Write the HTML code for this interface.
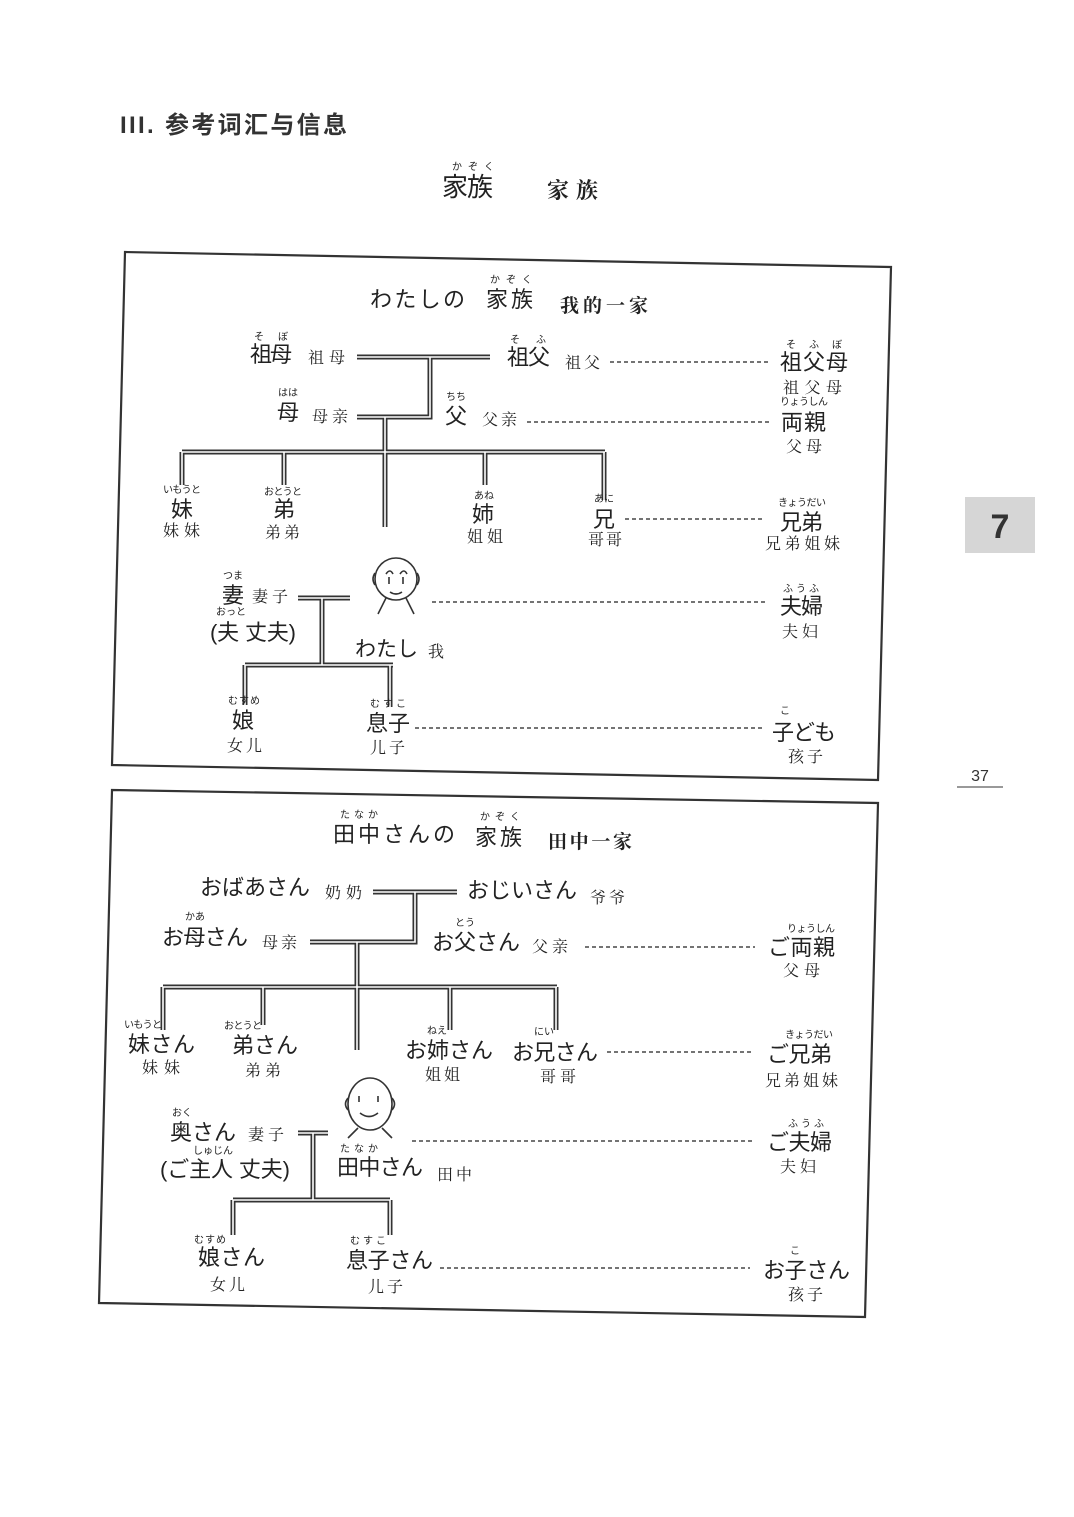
<!DOCTYPE html>
<html><head><meta charset="utf-8"><style>
html,body{margin:0;padding:0;background:#fff}
svg{display:block}
.j{font-family:"Liberation Sans","Noto Sans CJK JP",sans-serif;fill:#222}
.c{font-family:"Liberation Serif","Noto Serif CJK SC",serif;fill:#222}
.r{font-family:"Noto Sans CJK JP",sans-serif;fill:#222;font-size:10px}
.d{stroke:#222;stroke-width:1.2;stroke-dasharray:4 3;fill:none}
.o{stroke:#333;stroke-width:5;fill:none}
.i{stroke:#fff;stroke-width:1.6;fill:none}
</style></head><body>
<svg width="1074" height="1517" viewBox="0 0 1074 1517" xmlns="http://www.w3.org/2000/svg">
<rect width="1074" height="1517" fill="#fff"/>
<text x="120" y="133" font-family="Liberation Sans,Noto Sans CJK SC,sans-serif" font-weight="bold" font-size="24" fill="#333" textLength="227">III. 参考词汇与信息</text>
<text class="r" x="452" y="170" textLength="42">かぞく</text>
<text class="j" x="442" y="196" font-size="26" textLength="51">家族</text>
<text class="c" x="547" y="198" font-size="22" font-weight="bold" textLength="51">家族</text>
<rect x="965" y="497" width="70" height="56" fill="#d6d6d6"/>
<text x="1000" y="538" text-anchor="middle" font-family="Liberation Sans,sans-serif" font-weight="bold" font-size="34" fill="#333">7</text>
<text x="980" y="781" text-anchor="middle" font-family="Liberation Sans,sans-serif" font-size="16" fill="#333">37</text>
<line x1="957" y1="787" x2="1003" y2="787" stroke="#333" stroke-width="1"/>

<!-- box 1 -->
<polygon points="125,252 891,267 878,780 112,765" fill="none" stroke="#333" stroke-width="2.2"/>
<text class="r" x="490" y="283" textLength="42">かぞく</text>
<text class="j" x="370" y="307" font-size="22" textLength="95">わたしの</text>
<text class="j" x="486" y="307" font-size="22" textLength="47">家族</text>
<text class="c" x="560" y="312" font-size="19" font-weight="bold" textLength="88">我的一家</text>
<g class="o"><path d="M357,357H490M430,357V417H357M385,417V452M182,452H605M182,452V485M284,452V485M385,452V527M485,452V485M604,452V500"/>
<path d="M298,598H350M322,598V665M245,665H393M245,665V705M390,665V707"/></g>
<g class="i"><path d="M357,357H490M430,357V417H357M385,417V452M182,452H605M182,452V485M284,452V485M385,452V527M485,452V485M604,452V500"/>
<path d="M298,598H350M322,598V665M245,665H393M245,665V705M390,665V707"/></g>
<g class="d"><path d="M610,362H770M527,422H770M625,519H765M432,602H765M415,728H765"/></g>
<text class="r" x="254" y="340" textLength="34">そ　ぼ</text>
<text class="j" x="250" y="362" font-size="22" textLength="42">祖母</text>
<text class="c" x="308" y="363" font-size="16" textLength="37">祖母</text>
<text class="r" x="510" y="343" textLength="36">そ　ふ</text>
<text class="j" x="507" y="365" font-size="22" textLength="43">祖父</text>
<text class="c" x="565" y="368" font-size="16" textLength="35">祖父</text>
<text class="r" x="786" y="348" textLength="56">そ　ふ　ぼ</text>
<text class="j" x="780" y="370" font-size="22" textLength="68">祖父母</text>
<text class="c" x="783" y="393" font-size="16" textLength="59">祖父母</text>
<text class="r" x="278" y="396" textLength="20">はは</text>
<text class="j" x="277" y="420" font-size="22">母</text>
<text class="c" x="312" y="422" font-size="16" textLength="36">母亲</text>
<text class="r" x="446" y="400" textLength="20">ちち</text>
<text class="j" x="445" y="424" font-size="22">父</text>
<text class="c" x="482" y="425" font-size="16" textLength="35">父亲</text>
<text class="r" x="780" y="405" textLength="48">りょうしん</text>
<text class="j" x="781" y="430" font-size="22" textLength="45">両親</text>
<text class="c" x="786" y="452" font-size="16" textLength="36">父母</text>
<text class="r" x="163" y="493" textLength="38">いもうと</text>
<text class="j" x="171" y="517" font-size="22">妹</text>
<text class="c" x="163" y="536" font-size="16" textLength="37">妹妹</text>
<text class="r" x="264" y="495" textLength="38">おとうと</text>
<text class="j" x="273" y="517" font-size="22">弟</text>
<text class="c" x="265" y="538" font-size="16" textLength="35">弟弟</text>
<text class="r" x="474" y="499" textLength="20">あね</text>
<text class="j" x="472" y="522" font-size="22">姉</text>
<text class="c" x="467" y="542" font-size="16" textLength="36">姐姐</text>
<text class="r" x="594" y="502" textLength="20">あに</text>
<text class="j" x="593" y="527" font-size="22">兄</text>
<text class="c" x="588" y="545" font-size="16" textLength="34">哥哥</text>
<text class="r" x="778" y="506" textLength="48">きょうだい</text>
<text class="j" x="780" y="530" font-size="22" textLength="43">兄弟</text>
<text class="c" x="765" y="549" font-size="16" textLength="75">兄弟姐妹</text>
<text class="r" x="223" y="579" textLength="20">つま</text>
<text class="j" x="222" y="603" font-size="22">妻</text>
<text class="c" x="252" y="602" font-size="16" textLength="36">妻子</text>
<text class="r" x="216" y="615" textLength="30">おっと</text>
<text class="j" x="210" y="640" font-size="22" textLength="86">(夫 丈夫)</text>
<g stroke="#333" stroke-width="1.6" fill="none">
<circle cx="396" cy="579" r="21"/><path d="M375,573q-4,6 0,12M417,573q4,6 0,12M386,574q4,-6 7,0M400,574q4,-6 7,0M389,577v7M403,577v7M390,592q6,4 12,0M386,598l-8,16M406,598l8,16"/></g>
<text class="j" x="355" y="656" font-size="21" textLength="63">わたし</text>
<text class="c" x="428" y="657" font-size="16">我</text>
<text class="r" x="783" y="592" textLength="36">ふうふ</text>
<text class="j" x="780" y="614" font-size="22" textLength="43">夫婦</text>
<text class="c" x="782" y="637" font-size="16" textLength="36">夫妇</text>
<text class="r" x="228" y="704" textLength="32">むすめ</text>
<text class="j" x="232" y="728" font-size="22">娘</text>
<text class="c" x="227" y="751" font-size="16" textLength="35">女儿</text>
<text class="r" x="370" y="707" textLength="36">むすこ</text>
<text class="j" x="366" y="731" font-size="22" textLength="44">息子</text>
<text class="c" x="370" y="753" font-size="16" textLength="35">儿子</text>
<text class="r" x="780" y="714">こ</text>
<text class="j" x="772" y="740" font-size="22" textLength="64">子ども</text>
<text class="c" x="788" y="762" font-size="16" textLength="35">孩子</text>

<!-- box 2 -->
<polygon points="112,790 878,803 865,1317 99,1303" fill="none" stroke="#333" stroke-width="2.2"/>
<text class="r" x="340" y="818" textLength="38">たなか</text>
<text class="j" x="333" y="842" font-size="22" textLength="122">田中さんの</text>
<text class="r" x="480" y="820" textLength="40">かぞく</text>
<text class="j" x="475" y="845" font-size="22" textLength="47">家族</text>
<text class="c" x="548" y="848" font-size="19" font-weight="bold" textLength="84">田中一家</text>
<g class="o"><path d="M373,892H457M415,892V942H310M357,942V987M163,987H557M163,987V1030M263,987V1025M357,987V1050M450,987V1030M556,987V1030"/>
<path d="M298,1133H328M313,1133V1200M233,1200H390M233,1200V1235M390,1200V1235"/></g>
<g class="i"><path d="M373,892H457M415,892V942H310M357,942V987M163,987H557M163,987V1030M263,987V1025M357,987V1050M450,987V1030M556,987V1030"/>
<path d="M298,1133H328M313,1133V1200M233,1200H390M233,1200V1235M390,1200V1235"/></g>
<g class="d"><path d="M585,947H755M607,1052H752M412,1141H752M440,1268H750"/></g>
<text class="j" x="200" y="895" font-size="22" textLength="110">おばあさん</text>
<text class="c" x="325" y="898" font-size="16" textLength="37">奶奶</text>
<text class="j" x="467" y="898" font-size="22" textLength="110">おじいさん</text>
<text class="c" x="590" y="903" font-size="16" textLength="35">爷爷</text>
<text class="r" x="185" y="920" textLength="20">かあ</text>
<text class="j" x="162" y="945" font-size="22" textLength="86">お母さん</text>
<text class="c" x="262" y="948" font-size="16" textLength="35">母亲</text>
<text class="r" x="455" y="926" textLength="20">とう</text>
<text class="j" x="432" y="950" font-size="22" textLength="88">お父さん</text>
<text class="c" x="532" y="952" font-size="16" textLength="36">父亲</text>
<text class="r" x="787" y="932" textLength="48">りょうしん</text>
<text class="j" x="768" y="955" font-size="22" textLength="67">ご両親</text>
<text class="c" x="783" y="976" font-size="16" textLength="37">父母</text>
<text class="r" x="124" y="1028" textLength="38">いもうと</text>
<text class="j" x="128" y="1052" font-size="22" textLength="67">妹さん</text>
<text class="c" x="142" y="1073" font-size="16" textLength="38">妹妹</text>
<text class="r" x="224" y="1029" textLength="38">おとうと</text>
<text class="j" x="232" y="1053" font-size="22" textLength="66">弟さん</text>
<text class="c" x="245" y="1076" font-size="16" textLength="36">弟弟</text>
<text class="r" x="427" y="1034" textLength="20">ねえ</text>
<text class="j" x="405" y="1058" font-size="22" textLength="88">お姉さん</text>
<text class="c" x="425" y="1080" font-size="16" textLength="35">姐姐</text>
<text class="r" x="534" y="1035" textLength="20">にい</text>
<text class="j" x="512" y="1060" font-size="22" textLength="86">お兄さん</text>
<text class="c" x="540" y="1082" font-size="16" textLength="36">哥哥</text>
<text class="r" x="785" y="1038" textLength="48">きょうだい</text>
<text class="j" x="767" y="1062" font-size="22" textLength="65">ご兄弟</text>
<text class="c" x="765" y="1086" font-size="16" textLength="73">兄弟姐妹</text>
<g stroke="#333" stroke-width="1.6" fill="none">
<ellipse cx="370" cy="1104" rx="22" ry="26"/><path d="M348,1098q-5,6 0,12M392,1098q5,6 0,12M359,1096v6M378,1096v6M360,1113q9,7 18,0M358,1128l-10,10M382,1128l10,10"/></g>
<text class="r" x="172" y="1116" textLength="20">おく</text>
<text class="j" x="170" y="1140" font-size="22" textLength="66">奥さん</text>
<text class="c" x="248" y="1140" font-size="16" textLength="36">妻子</text>
<text class="r" x="193" y="1154" textLength="40">しゅじん</text>
<text class="j" x="160" y="1177" font-size="22" textLength="130">(ご主人 丈夫)</text>
<text class="r" x="340" y="1152" textLength="38">たなか</text>
<text class="j" x="337" y="1175" font-size="22" textLength="86">田中さん</text>
<text class="c" x="437" y="1180" font-size="16" textLength="35">田中</text>
<text class="r" x="788" y="1127" textLength="36">ふうふ</text>
<text class="j" x="767" y="1150" font-size="22" textLength="65">ご夫婦</text>
<text class="c" x="780" y="1172" font-size="16" textLength="36">夫妇</text>
<text class="r" x="194" y="1243" textLength="32">むすめ</text>
<text class="j" x="198" y="1265" font-size="22" textLength="67">娘さん</text>
<text class="c" x="210" y="1290" font-size="16" textLength="35">女儿</text>
<text class="r" x="350" y="1244" textLength="36">むすこ</text>
<text class="j" x="346" y="1268" font-size="22" textLength="87">息子さん</text>
<text class="c" x="368" y="1292" font-size="16" textLength="35">儿子</text>
<text class="r" x="790" y="1254">こ</text>
<text class="j" x="763" y="1278" font-size="22" textLength="87">お子さん</text>
<text class="c" x="788" y="1300" font-size="16" textLength="35">孩子</text>
</svg>
</body></html>
